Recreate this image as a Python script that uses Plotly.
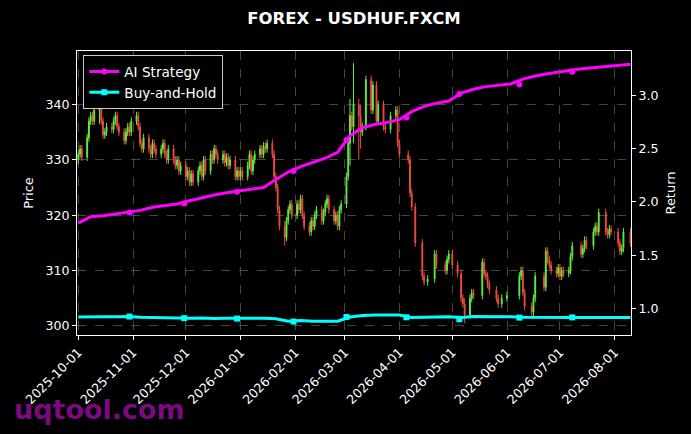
import pandas as pd
import plotly.graph_objects as go

TITLE = "FOREX - USDHUF.FXCM"

# Daily closes (weekdays of each month; None = no candle that day)
close_2025_10 = [331, 332, 330.5, 334, 337, 338, 337, 339, 340, 337, 334.5, 335, 336,
                 335.5, 337, 338, 336, 335, 333.5, 335, 336, 335, 337]
close_2025_11 = [338, 336, 333, 332, 334, 332, 331, 333, 332, 331, 332, 333, 331, 330,
                 332, 330, 329, 330, 328, 329]
close_2025_12 = [327, 328, 326, 327.5, 326, 328, 329, 327, 330, 328, 331, 330, 332, 331,
                 330, 331, 329.5, 330.5, 329, 330, 327, 328, 327]
close_2026_01 = [328, 327, 329, 331, 328, 330, 331, 332, 331, 332.5, 332, 333, 331, 327,
                 325, 321, 318, 316, 319, 321, 322, 320]
close_2026_02 = [322, 321, 323, 320, 318, 317, 319, 318, 320, 321, 319, 320.5, 322, 323,
                 321, 319, 320, 318, 321, 322]
close_2026_03 = [327, 333, 338, 336, 340, 338, 335, 336, None, 344.5, 339, 343.5, None,
                 337, 340, 336, 335.5, None, None, 338, 339, 333]
close_2026_04 = [331, None, None, 330, 324, 321.5, None, 315, None, 309, 308, None, 308.5,
                 None, 313, 311, None, None, 310, 312, 313, None]
close_2026_05 = [311, 309.5, None, 305, 304, 302, 305, 306, 305.5, None, None, 311.5, 309.5,
                 309, 307.5, 306.5, None, 305, 304, None, 305]
close_2026_06 = [305.5, None, None, None, None, 309, 310, 306, 303.5, None, 302.5, 305, 309,
                 None, None, 307, 313.5, 312, 311, 310, 309.5, 310.5]
close_2026_07 = [309, 310, 309.5, 310, 312.5, 314.5, None, None, 313, 314, 315.5, 314.5, None,
                 317, 318, 317, 320.5, None, 317, 316.5, 317.5, 317, None]
close_2026_08 = [315, 313.5, 314, 317, None, 315]

# a few candles with long shadows (high, low)
shadow_extremes = {
    "2025-10-13": (341.5, 336.5),
    "2026-01-26": (319, 314.5),
    "2026-03-04": (341, 329),
    "2026-03-06": (347.5, 333),
    "2026-03-09": (341, 330),
    "2026-03-10": (340, 332),
    "2026-05-08": (305, 300.5),
    "2026-07-23": (321, 318),
}

# Strategy returns (weekly samples)
ret_dates = list(pd.date_range("2025-10-01", "2026-08-05", freq="7D")) + [pd.Timestamp("2026-08-10")]
ai_strategy = [1.80, 1.86, 1.87, 1.885, 1.90, 1.92, 1.95, 1.965, 1.98,
               2.01, 2.04, 2.065, 2.085, 2.10, 2.115, 2.135, 2.21, 2.28,
               2.33, 2.37, 2.41, 2.465, 2.62, 2.695, 2.725, 2.745,
               2.77, 2.845, 2.895, 2.925, 2.945, 3.02, 3.055, 3.08, 3.095,
               3.105, 3.15, 3.18, 3.20, 3.22, 3.235, 3.25, 3.262, 3.272, 3.282, 3.29]
buy_and_hold = [0.921, 0.925, 0.924, 0.922, 0.925, 0.918, 0.915, 0.912, 0.91,
                0.908, 0.912, 0.906, 0.908, 0.905, 0.908, 0.91, 0.905, 0.88,
                0.888, 0.88, 0.882, 0.882, 0.92, 0.935, 0.94, 0.942,
                0.94, 0.915, 0.92, 0.921, 0.922, 0.915, 0.925, 0.926, 0.925,
                0.924, 0.918, 0.916, 0.917, 0.916, 0.915, 0.916, 0.916, 0.916, 0.916, 0.916]

marker_dates = ["2025-10-30", "2025-11-30", "2025-12-30", "2026-01-31", "2026-03-02",
                "2026-04-05", "2026-05-05", "2026-06-08", "2026-07-08"]
ai_marker_vals = [1.90, 1.985, 2.095, 2.29, 2.58, 2.79, 3.01, 3.10, 3.22]
bh_marker_vals = [0.925, 0.91, 0.906, 0.878, 0.921, 0.918, 0.90, 0.915, 0.917]

x_ticks = ["2025-10-01", "2025-11-01", "2025-12-01", "2026-01-01", "2026-02-01", "2026-03-01",
           "2026-04-01", "2026-05-01", "2026-06-01", "2026-07-01", "2026-08-01"]
price_ticks = [300, 310, 320, 330, 340]
return_ticks = [1.0, 1.5, 2.0, 2.5, 3.0]

# ---- build OHLC ----
months = [
    ("2025-10-01", "2025-10-31", close_2025_10),
    ("2025-11-01", "2025-11-30", close_2025_11),
    ("2025-12-01", "2025-12-31", close_2025_12),
    ("2026-01-01", "2026-01-31", close_2026_01),
    ("2026-02-01", "2026-02-28", close_2026_02),
    ("2026-03-01", "2026-03-31", close_2026_03),
    ("2026-04-01", "2026-04-30", close_2026_04),
    ("2026-05-01", "2026-05-31", close_2026_05),
    ("2026-06-01", "2026-06-30", close_2026_06),
    ("2026-07-01", "2026-07-31", close_2026_07),
    ("2026-08-01", "2026-08-10", close_2026_08),
]
dates, closes = [], []
for s, e, cl in months:
    for d, c in zip(pd.bdate_range(s, e), cl):
        if c is not None:
            dates.append(d)
            closes.append(c)

opens = [closes[0] - 1.0] + closes[:-1]
pad = 0.7
highs, lows = [], []
for d, o, c in zip(dates, opens, closes):
    h, l = max(o, c) + pad, min(o, c) - pad
    key = d.strftime("%Y-%m-%d")
    if key in shadow_extremes:
        h = max(h, shadow_extremes[key][0])
        l = min(l, shadow_extremes[key][1])
    highs.append(h)
    lows.append(l)

GREEN = "#5ef03e"
RED = "#f24a3f"
MAG = "#ff00ff"
CYAN = "#00ffff"
GRID = "rgba(150,150,150,0.45)"
FONT = "DejaVu Sans"

fig = go.Figure()
fig.add_trace(go.Candlestick(
    x=dates, open=opens, high=highs, low=lows, close=closes,
    increasing=dict(line=dict(color=GREEN, width=1), fillcolor=GREEN),
    decreasing=dict(line=dict(color=RED, width=1), fillcolor=RED),
    showlegend=False, yaxis="y", hoverinfo="skip",
))
fig.add_trace(go.Scatter(x=ret_dates, y=ai_strategy, mode="lines",
                         line=dict(color=MAG, width=3), yaxis="y2", showlegend=False))
fig.add_trace(go.Scatter(x=ret_dates, y=buy_and_hold, mode="lines",
                         line=dict(color=CYAN, width=3), yaxis="y2", showlegend=False))
fig.add_trace(go.Scatter(x=marker_dates, y=ai_marker_vals, mode="markers",
                         marker=dict(color=MAG, size=6, symbol="circle"), yaxis="y2", showlegend=False))
fig.add_trace(go.Scatter(x=marker_dates, y=bh_marker_vals, mode="markers",
                         marker=dict(color=CYAN, size=6, symbol="square"), yaxis="y2", showlegend=False))
# legend entries
fig.add_trace(go.Scatter(x=[None], y=[None], mode="lines+markers", name="AI Strategy",
                         line=dict(color=MAG, width=3), marker=dict(color=MAG, size=6, symbol="circle"),
                         yaxis="y2", legendgroup="a"))
fig.add_trace(go.Scatter(x=[None], y=[None], mode="lines+markers", name="Buy-and-Hold",
                         line=dict(color=CYAN, width=3), marker=dict(color=CYAN, size=6, symbol="square"),
                         yaxis="y2", legendgroup="b"))

axis_common = dict(showline=True, linecolor="white", linewidth=1, ticks="outside", ticklen=4,
                   tickcolor="white", tickfont=dict(family=FONT, size=12.6, color="white"))

fig.update_layout(
    width=691, height=434,
    paper_bgcolor="black", plot_bgcolor="black",
    margin=dict(l=77, r=60, t=51, b=99),
    font=dict(family=FONT, color="white"),
    title=dict(text="<b>" + TITLE + "</b>", x=0.5, xref="paper", y=1 - 18 / 434, yref="container",
               xanchor="center", yanchor="middle", font=dict(family=FONT, size=16.5, color="white")),
    xaxis=dict(type="date", range=["2025-09-30 06:00", "2026-08-10 07:00"],
               tickvals=x_ticks, ticktext=x_ticks, tickangle=-45, mirror=True,
               showgrid=True, gridcolor=GRID, griddash="dash", gridwidth=0.8,
               rangeslider=dict(visible=False), zeroline=False, **axis_common),
    yaxis=dict(range=[298.37, 349.67], tickvals=price_ticks, showgrid=True, gridcolor=GRID,
               griddash="dash", gridwidth=0.8, zeroline=False,
               title=dict(text="Price", font=dict(family=FONT, size=13, color="white"), standoff=8),
               **axis_common),
    yaxis2=dict(range=[0.752, 3.414], tickvals=return_ticks, tickformat=".1f", overlaying="y",
                side="right", showgrid=False, zeroline=False,
                title=dict(text="Return", font=dict(family=FONT, size=13, color="white"), standoff=8),
                **axis_common),
    legend=dict(x=0.0114, y=0.985, xanchor="left", yanchor="top", bgcolor="black",
                bordercolor="#cccccc", borderwidth=1, traceorder="grouped", tracegroupgap=0,
                font=dict(family=FONT, size=13.6, color="white")),
    annotations=[dict(text="<b>uqtool.com</b>", xref="paper", yref="paper",
                      x=(12 - 77) / 553.7, y=(334.7 - 409) / 283.7, xanchor="left", yanchor="middle",
                      showarrow=False, opacity=0.9,
                      font=dict(family=FONT, size=27, color="#8a0a8e"))],
)

fig.write_html("out.html", config={"displayModeBar": False},
               post_script="document.body.style.margin='0';")
